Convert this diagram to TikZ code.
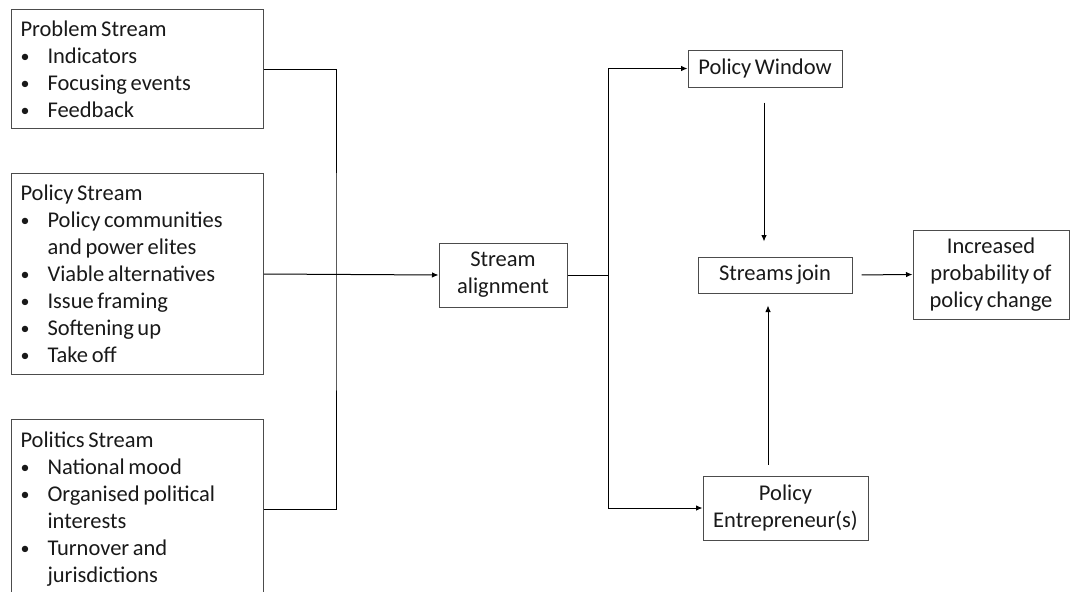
\documentclass[tikz,border=0pt]{standalone}
\usepackage{fontspec}
\setmainfont{Carlito}
\usepackage{tikz}
\usetikzlibrary{arrows.meta}

\newcommand{\bitem}[1]{\makebox[27pt][l]{\raisebox{1pt}{\fontsize{18}{27}\selectfont\textbullet}}#1}
\newcommand{\bcont}[1]{\hspace*{27pt}#1}
\newcommand{\boxfont}{\fontsize{22.5}{27}\selectfont\spaceskip=0.16em plus 0.05em\relax}

\tikzset{
  sbox/.style={draw=black!70, line width=1pt, text=black!90, inner sep=0pt,
    font=\boxfont},
  listbox/.style={sbox, anchor=north west, align=flush left, text width=234pt,
    inner xsep=9pt, minimum width=252pt},
  midbox/.style={sbox, align=center},
  conn/.style={line width=1pt, black},
  arr/.style={conn, -{Latex[length=6.5pt,width=5.5pt]}}
}

\begin{document}
\begin{tikzpicture}[x=1pt,y=-1pt]
\useasboundingbox (0,0) rectangle (1072,592);
\clip (0,0) rectangle (1072,592);

% Stream boxes
\node [listbox, minimum height=119pt] (problem) at (11,9)
  {Problem Stream\\ \bitem{Indicators}\\ \bitem{Focusing events}\\ \bitem{Feedback}};
\node [listbox, minimum height=201pt] (policy) at (11,173)
  {Policy Stream\\ \bitem{Policy communities}\\ \bcont{and power elites}\\
   \bitem{Viable alternatives}\\ \bitem{Issue framing}\\ \bitem{Softening up}\\ \bitem{Take off}};
\node [listbox, minimum height=179pt] (politics) at (11,419)
  {Politics Stream\\ \bitem{National mood}\\ \bitem{Organised political}\\ \bcont{interests}\\
   \bitem{Turnover and}\\ \bcont{jurisdictions}};

% Middle and right boxes
\node [midbox, minimum width=128pt, minimum height=64pt] (align) at (503,275) {Stream\\alignment};
\node [midbox, minimum width=154pt, minimum height=37pt] (window) at (765,68.5) {Policy Window};
\node [midbox, minimum width=154pt, minimum height=36pt] (join) at (775,275) {Streams join};
\node [midbox, minimum width=165pt, minimum height=64pt] (entre) at (785.5,508) {Policy\\Entrepreneur(s)};
\node [midbox, minimum width=156pt, minimum height=89pt] (prob) at (991,274.5)
  {Increased\\probability of\\policy change};

\coordinate (lbus) at (336,274);
\coordinate (rbus) at (608,275);
\coordinate (up) at (768,0);

% Connectors
\draw [conn] (problem.east) -| (lbus) |- (politics.east);
\draw [arr] (policy.east) -- (align.west);
\draw [conn] (align.east) -- (rbus);
\draw [arr] (rbus) |- (window.west);
\draw [arr] (rbus) |- (entre.west);
\draw [arr, shorten <=15pt, shorten >=15pt] ([xshift=-1pt]window.south) -- ([xshift=-1pt]window.south |- join.north);
\draw [arr, shorten <=11pt, shorten >=12pt] (entre.north -| up) -- (join.south -| up);
\draw [arr, shorten <=9pt] (join.east) -- (prob.west);

\end{tikzpicture}
\end{document}
